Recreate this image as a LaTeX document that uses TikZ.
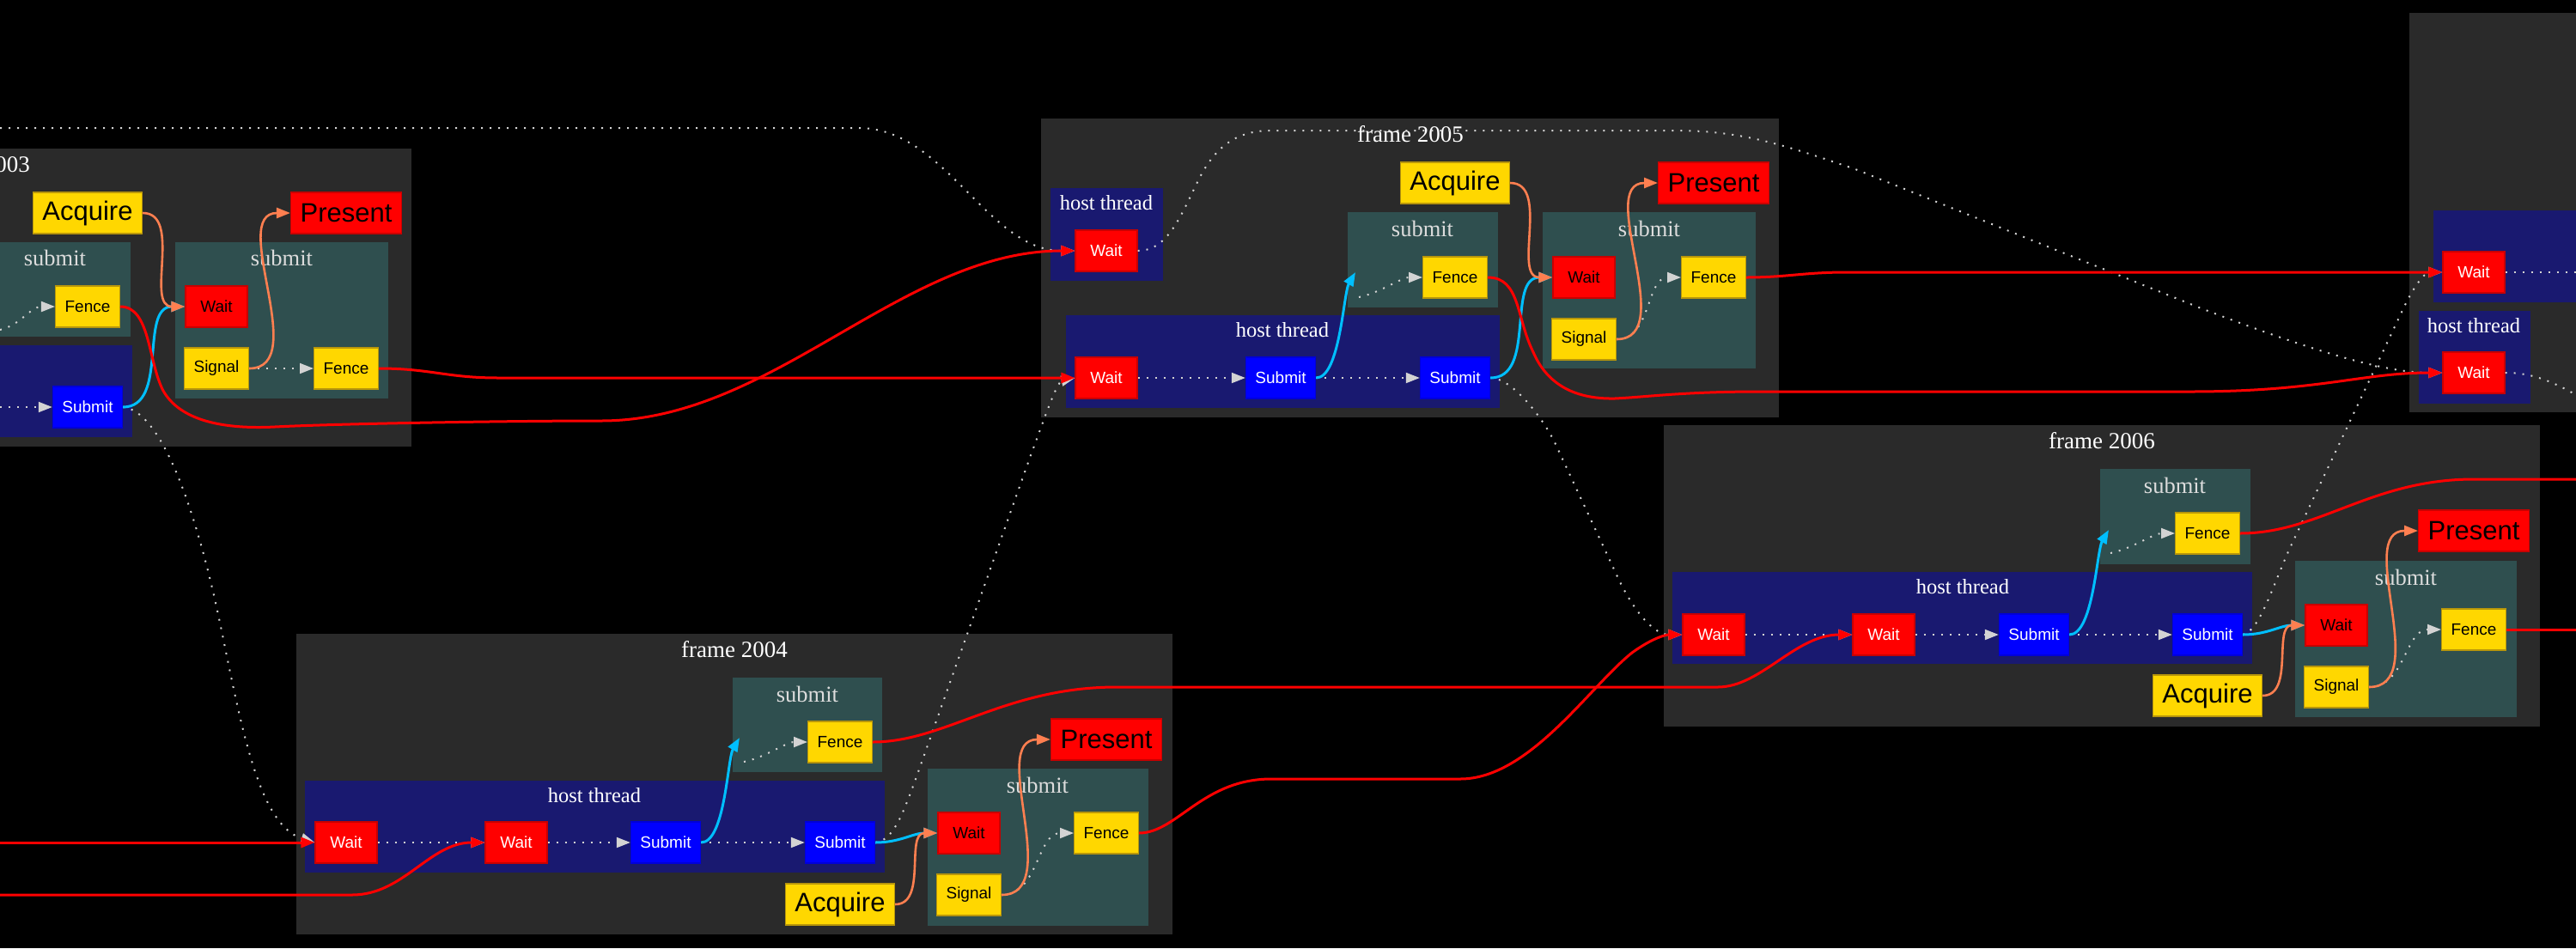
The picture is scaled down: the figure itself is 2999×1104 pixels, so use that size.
\documentclass[tikz,border=0pt]{standalone}
\usepackage{fontspec}
\setmainfont{Liberation Serif}
\newfontfamily\nodefont{Liberation Sans}
\usetikzlibrary{arrows.meta}

\definecolor{framebg}{RGB}{42,42,42}
\definecolor{submitbg}{RGB}{47,79,79}
\definecolor{hostbg}{RGB}{25,25,112}
\definecolor{goldfill}{RGB}{255,215,0}
\definecolor{goldedge}{RGB}{184,150,11}
\definecolor{rededge}{RGB}{200,0,0}
\definecolor{coralline}{RGB}{255,127,80}
\definecolor{skyline}{RGB}{0,191,255}
\definecolor{seqgray}{RGB}{211,211,211}
\definecolor{sublabel}{RGB}{220,220,220}

\tikzset{
  >={Triangle[length=16pt,width=12pt]},
  box/.style={rectangle, minimum height=48pt, minimum width=72pt,
    inner xsep=11pt, inner ysep=0pt, line width=1.2pt,
    font=\nodefont\fontsize{19}{22}\selectfont},
  waithost/.style={box, fill=red, draw=rededge, text=white},
  waitsub/.style={box, fill=red, draw=rededge, text=black},
  subnode/.style={box, fill=blue, draw=blue!85!black, text=white},
  goldnode/.style={box, fill=goldfill, draw=goldedge, text=black},
  acqnode/.style={goldnode, font=\nodefont\fontsize{31}{36}\selectfont},
  presnode/.style={box, fill=red, draw=rededge, text=black,
    font=\nodefont\fontsize{31}{36}\selectfont},
  ftitle/.style={anchor=base, inner sep=0pt, text=white,
    font=\fontsize{27}{30}\selectfont},
  hlabel/.style={anchor=base, inner sep=0pt, text=white,
    font=\fontsize{24.5}{28}\selectfont},
  slabel/.style={anchor=base, inner sep=0pt, text=sublabel,
    font=\fontsize{26.5}{30}\selectfont},
  seq/.style={draw=seqgray, line width=2pt, dash pattern=on 2pt off 8pt, ->},
  fence/.style={draw=red, line width=3pt, ->},
  sem/.style={draw=coralline, line width=2.6pt, ->},
  subm/.style={draw=skyline, line width=3pt, ->},
}

\begin{document}
\begin{tikzpicture}[x=1pt,y=-1pt]
\useasboundingbox (0,0) rectangle (2999,1104);
\fill[black] (0,0) rectangle (2999,1104);
\begin{scope}
\clip (0,0) rectangle (2999,1104);

% ---------- clusters ----------
% frame 2003
\fill[framebg] (-533,173) rectangle (479,520);
\node[ftitle] (aTitle) at (-27,200) {frame 2003};
\fill[submitbg] (-24,282) rectangle (152,392);
\node[slabel] (aSubLblL) at (64,309) {submit};
\fill[hostbg] (-500,402) rectangle (154,509);
\fill[submitbg] (204,282) rectangle (452,464);
\node[slabel] (aSubLblR) at (328,309) {submit};

% frame 2005
\fill[framebg] (1212,138) rectangle (2071,486);
\node[ftitle] (cTitle) at (1642,165) {frame 2005};
\fill[hostbg] (1223,219) rectangle (1354,327);
\node[hlabel] (cHostLblS) at (1288,244) {host thread};
\fill[submitbg] (1569,247) rectangle (1744,358);
\node[slabel] (cSubLblA) at (1656,275) {submit};
\fill[submitbg] (1796,247) rectangle (2044,429);
\node[slabel] (cSubLblB) at (1920,275) {submit};
\fill[hostbg] (1241,367) rectangle (1746,475);
\node[hlabel] (cHostLbl) at (1493,392) {host thread};

% frame 2004
\fill[framebg] (345,738) rectangle (1365,1088);
\node[ftitle] (bTitle) at (855,765) {frame 2004};
\fill[submitbg] (853,789) rectangle (1027,899);
\node[slabel] (bSubLblA) at (940,817) {submit};
\fill[hostbg] (355,909) rectangle (1030,1016);
\node[hlabel] (bHostLbl) at (692,934) {host thread};
\fill[submitbg] (1080,895) rectangle (1337,1078);
\node[slabel] (bSubLblB) at (1208,923) {submit};

% frame 2006
\fill[framebg] (1937,495) rectangle (2957,846);
\node[ftitle] (dTitle) at (2447,522) {frame 2006};
\fill[submitbg] (2445,546) rectangle (2620,657);
\node[slabel] (dSubLblA) at (2532,574) {submit};
\fill[hostbg] (1947,666) rectangle (2622,773);
\node[hlabel] (dHostLbl) at (2285,691) {host thread};
\fill[submitbg] (2672,653) rectangle (2930,835);
\node[slabel] (dSubLblB) at (2801,681) {submit};

% frame 2007
\fill[framebg] (2805,15) rectangle (3300,480);
\fill[hostbg] (2833,245) rectangle (3300,352);
\fill[hostbg] (2816,362) rectangle (2946,470);
\node[hlabel] (eHostLbl) at (2880,387) {host thread};

% ---------- nodes ----------
% frame 2003
\node[acqnode]  (aAcq)    at (102,248) {Acquire};
\node[presnode] (aPres)   at (403,248) {Present};
\node[goldnode] (aFenceL) at (102,357) {Fence};
\node[waitsub]  (aWait)   at (252,357) {Wait};
\node[goldnode] (aSig)    at (252,429) {Signal};
\node[goldnode] (aFenceR) at (403,429) {Fence};
\node[subnode]  (aSub)    at (102,474) {Submit};

% frame 2005
\node[waithost] (cHWait)  at (1288,292) {Wait};
\node[acqnode]  (cAcq)    at (1694,213) {Acquire};
\node[presnode] (cPres)   at (1995,213) {Present};
\node[goldnode] (cFence1) at (1694,323) {Fence};
\node[waitsub]  (cWait)   at (1844,323) {Wait};
\node[goldnode] (cFence2) at (1995,323) {Fence};
\node[goldnode] (cSig)    at (1844,395) {Signal};
\node[waithost] (cWait1)  at (1288,440) {Wait};
\node[subnode]  (cSub1)   at (1491,440) {Submit};
\node[subnode]  (cSub2)   at (1694,440) {Submit};
\coordinate (cTip) at (1578,317);
\coordinate (cIn)  at (1582,346);

% frame 2004
\node[goldnode] (bFence1) at (978,864) {Fence};
\node[presnode] (bPres)   at (1288,861) {Present};
\node[waithost] (bWait1)  at (403,981) {Wait};
\node[waithost] (bWait2)  at (601,981) {Wait};
\node[subnode]  (bSub1)   at (775,981) {Submit};
\node[subnode]  (bSub2)   at (978,981) {Submit};
\node[waitsub]  (bWait)   at (1128,970) {Wait};
\node[goldnode] (bFence2) at (1288,970) {Fence};
\node[goldnode] (bSig)    at (1128,1042) {Signal};
\node[acqnode]  (bAcq)    at (978,1053) {Acquire};
\coordinate (bTip) at (861,859);
\coordinate (bIn)  at (866,887);

% frame 2006
\node[goldnode] (dFence1) at (2570,621) {Fence};
\node[presnode] (dPres)   at (2880,618) {Present};
\node[waithost] (dWait1)  at (1995,739) {Wait};
\node[waithost] (dWait2)  at (2193,739) {Wait};
\node[subnode]  (dSub1)   at (2368,739) {Submit};
\node[subnode]  (dSub2)   at (2570,739) {Submit};
\node[waitsub]  (dWait)   at (2720,728) {Wait};
\node[goldnode] (dFence2) at (2880,733) {Fence};
\node[goldnode] (dSig)    at (2720,800) {Signal};
\node[acqnode]  (dAcq)    at (2570,810) {Acquire};
\coordinate (dTip) at (2455,617);
\coordinate (dIn)  at (2457,644);

% frame 2007
\node[waithost] (eWait1) at (2880,317) {Wait};
\node[waithost] (eWait2) at (2880,434) {Wait};

% loose ends leaving the visible area
\coordinate (inTop)   at (0,149);
\coordinate (inSub)   at (0,474);
\coordinate (inFence) at (0,384);
\coordinate (inRedA)  at (0,981);
\coordinate (inRedB)  at (0,1042);
\coordinate (outA) at (3040,317);
\coordinate (outB) at (3030,478);
\coordinate (outC) at (3050,558);
\coordinate (outD) at (3050,733);

% ---------- host-thread order ----------
\draw[seq] (inSub) -- (aSub.west);
\draw[seq] (cWait1.east) -- (cSub1.west);
\draw[seq] (cSub1.east) -- (cSub2.west);
\draw[seq] (bWait1.east) -- (bWait2.west);
\draw[seq] (bWait2.east) -- (bSub1.west);
\draw[seq] (bSub1.east) -- (bSub2.west);
\draw[seq] (dWait1.east) -- (dWait2.west);
\draw[seq] (dWait2.east) -- (dSub1.west);
\draw[seq] (dSub1.east) -- (dSub2.west);
\draw[seq] (eWait1.east) -- (outA);

% ---------- submit internals ----------
\draw[seq] (inFence) .. controls (25,378) and (35,357) .. (aFenceL.west);
\draw[seq] (aSig.east) -- (aFenceR.west);
\draw[seq] (cIn) .. controls +(25,-5) and +(-25,0) .. (cFence1.west);
\draw[seq] (cSig.east) to[out=0,in=180] (cFence2.west);
\draw[seq] (bIn) .. controls +(25,-5) and +(-25,0) .. (bFence1.west);
\draw[seq] (bSig.east) to[out=0,in=180] (bFence2.west);
\draw[seq] (dIn) .. controls +(25,-5) and +(-25,0) .. (dFence1.west);
\draw[seq] (dSig.east) to[out=0,in=180] (dFence2.west);

% ---------- thread hand-over between frames ----------
\draw[seq] (inTop) -- (1000,149) .. controls (1100,149) and (1150,292) .. (cHWait.west);
\draw[seq] (cHWait.east) .. controls (1360,292) and (1375,250) .. (1395,210)
  .. controls (1415,170) and (1440,152) .. (1480,152) -- (1950,152)
  .. controls (2030,152) and (2080,170) .. (2160,197) -- (2560,358)
  .. controls (2700,412) and (2780,434) .. (eWait2.west);
\draw[seq] (eWait2.east) .. controls (2950,434) and (2975,445) .. (outB);
\draw[seq] (aSub.east) .. controls (185,478) and (225,580) .. (255,720)
  .. controls (280,840) and (300,960) .. (bWait1.west);
\draw[seq] (bSub2.east) .. controls (1040,978) and (1050,950) .. (1065,910)
  -- (1200,530) .. controls (1215,490) and (1230,445) .. (cWait1.west);
\draw[seq] (cSub2.east) .. controls (1760,440) and (1795,485) .. (1810,515)
  -- (1880,665) .. controls (1900,710) and (1925,739) .. (dWait1.west);
\draw[seq] (dSub2.east) .. controls (2630,735) and (2645,685) .. (2665,640)
  -- (2800,355) .. controls (2815,325) and (2825,317) .. (eWait1.west);

% ---------- submissions ----------
\draw[subm] (aSub.east) to[out=0,in=180] (aWait.west);
\draw[subm] (cSub1.east) .. controls +(28,0) and +(-14,24) .. (cTip);
\draw[subm] (cSub2.east) to[out=0,in=180] (cWait.west);
\draw[subm] (bSub1.east) .. controls +(28,0) and +(-14,24) .. (bTip);
\draw[subm] (bSub2.east) to[out=0,in=180] (bWait.west);
\draw[subm] (dSub1.east) .. controls +(28,0) and +(-14,24) .. (dTip);
\draw[subm] (dSub2.east) to[out=0,in=180] (dWait.west);

% ---------- swapchain semaphores ----------
\draw[sem] (aAcq.east) to[out=0,in=180] (aWait.west);
\draw[sem] (aSig.east) to[out=0,in=180] (aPres.west);
\draw[sem] (cAcq.east) to[out=0,in=180] (cWait.west);
\draw[sem] (cSig.east) to[out=0,in=180] (cPres.west);
\draw[sem] (bAcq.east) to[out=0,in=180] (bWait.west);
\draw[sem] (bSig.east) to[out=0,in=180] (bPres.west);
\draw[sem] (dAcq.east) to[out=0,in=180] (dWait.west);
\draw[sem] (dSig.east) to[out=0,in=180] (dPres.west);

% ---------- fences waited on by later frames ----------
\draw[fence] (inRedA) -- (bWait1.west);
\draw[fence] (inRedB) -- (410,1042) .. controls (470,1042) and (500,981) .. (bWait2.west);
\draw[fence] (aFenceL.east) .. controls +(35,0) and (172,420) .. (190,455)
  .. controls (210,490) and (260,500) .. (320,497)
  .. controls (400,493) and (600,490) .. (700,490)
  .. controls (900,490) and (1050,292) .. (cHWait.west);
\draw[fence] (aFenceR.east) .. controls +(60,0) and (520,440) .. (580,440) -- (cWait1.west);
\draw[fence] (cFence1.east) .. controls (1770,323) and (1765,370) .. (1785,410)
  .. controls (1800,445) and (1830,465) .. (1880,464)
  .. controls (1920,462) and (1960,456) .. (2050,456) -- (2550,456)
  .. controls (2700,456) and (2750,434) .. (eWait2.west);
\draw[fence] (cFence2.east) .. controls (2080,323) and (2100,317) .. (2150,317) -- (eWait1.west);
\draw[fence] (bFence1.east) .. controls (1100,864) and (1170,800) .. (1300,800)
  -- (2000,800) .. controls (2050,800) and (2090,739) .. (dWait2.west);
\draw[fence] (bFence2.east) .. controls (1370,970) and (1400,907) .. (1480,907)
  -- (1700,907) .. controls (1780,907) and (1850,800) .. (1900,760)
  .. controls (1925,742) and (1940,739) .. (dWait1.west);
\draw[fence] (dFence1.east) .. controls (2700,621) and (2760,558) .. (2880,558) -- (outC);
\draw[fence] (dFence2.east) -- (outD);

\end{scope}
\end{tikzpicture}
\end{document}
